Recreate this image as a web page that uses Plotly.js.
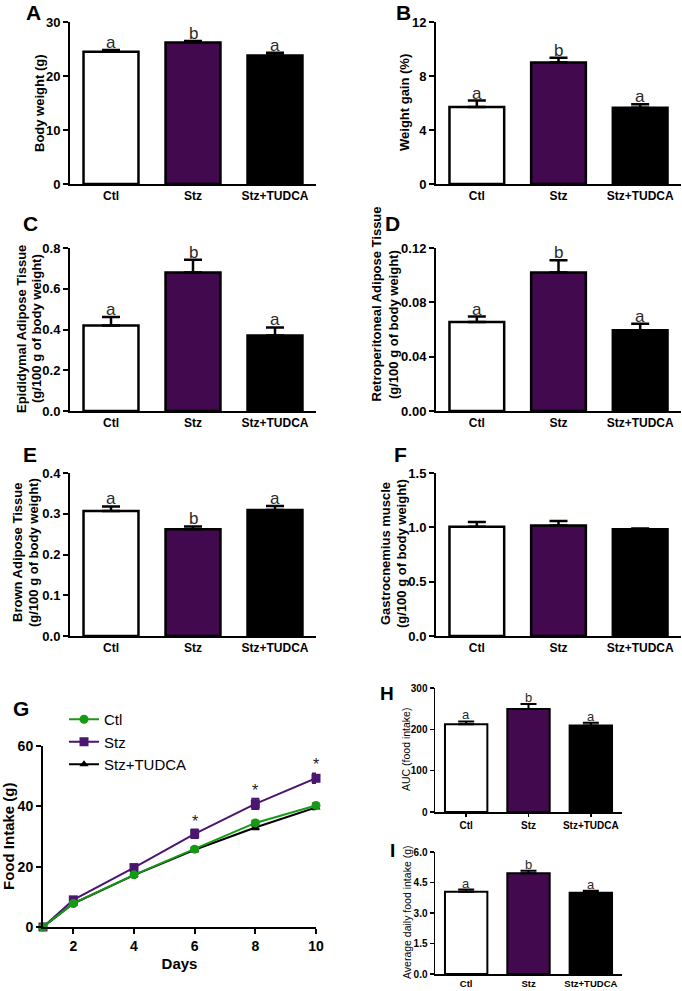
<!DOCTYPE html>
<html>
<head>
<meta charset="utf-8">
<script src="https://cdn.plot.ly/plotly-3.0.1.min.js"></script>
<style>html,body{margin:0;padding:0;background:#fff}#chart{width:682px;height:991px}</style>
</head>
<body>
<div id="chart"></div>
<script>
// ---------- DATA ----------
var categories = ['Ctl', 'Stz', 'Stz+TUDCA'];

var bodyWeight = [24.5, 26.2, 23.8];
var bodyWeightErr = [0.3, 0.3, 0.5];
var bodyWeightLetters = ['a', 'b', 'a'];

var weightGain = [5.7, 9.0, 5.65];
var weightGainErr = [0.48, 0.36, 0.26];
var weightGainLetters = ['a', 'b', 'a'];

var epididymal = [0.42, 0.68, 0.37];
var epididymalErr = [0.041, 0.062, 0.04];
var epididymalLetters = ['a', 'b', 'a'];

var retroperitoneal = [0.0655, 0.102, 0.0595];
var retroperitonealErr = [0.004, 0.009, 0.0048];
var retroperitonealLetters = ['a', 'b', 'a'];

var brownAdipose = [0.307, 0.262, 0.309];
var brownAdiposeErr = [0.011, 0.007, 0.01];
var brownAdiposeLetters = ['a', 'b', 'a'];

var gastrocnemius = [1.006, 1.018, 0.982];
var gastrocnemiusErr = [0.043, 0.04, 0.008];

var aucFood = [212, 249, 209];
var aucFoodErr = [7, 12, 7];
var aucFoodLetters = ['a', 'b', 'a'];

var avgDailyFood = [4.05, 4.95, 4.0];
var avgDailyFoodErr = [0.1, 0.13, 0.1];
var avgDailyFoodLetters = ['a', 'b', 'a'];

var days = [1, 2, 4, 6, 8, 10];
var ctlIntake = [0, 7.8, 17.3, 25.8, 34.5, 40.3];
var ctlIntakeErr = [0, 0.4, 0.6, 0.6, 0.7, 0.7];
var stzIntake = [0, 9.0, 19.7, 30.9, 40.8, 49.3];
var stzIntakeErr = [0, 0.6, 0.8, 1.4, 1.7, 1.6];
var tudcaIntake = [0, 7.8, 17.2, 25.6, 33.0, 39.6];
var tudcaIntakeErr = [0, 0.4, 0.5, 0.6, 0.6, 0.6];
var starDays = [6, 8, 10];

// ---------- STYLE ----------
var W = 682, H = 991;
var FONT = 'Liberation Sans, Arial, sans-serif';
var barColors = ['#ffffff', '#42094f', '#000000'];
var PURPLE_LINE = '#4a1670';
var GREEN = '#169a16';

function dx(a, b) { return [a / W, b / W]; }
function dy(top, bottom) { return [1 - bottom / H, 1 - top / H]; }

var traces = [];
var annotations = [];

function addBar(n, vals, errs, letters, small) {
  var xa = 'x' + (n === 1 ? '' : n), ya = 'y' + (n === 1 ? '' : n);
  traces.push({
    type: 'bar', x: categories, y: vals, xaxis: xa, yaxis: ya,
    width: small ? 0.68 : 0.67, showlegend: false,
    marker: { color: barColors, line: { color: '#000', width: small ? 2 : 2.5 } },
    error_y: { type: 'data', symmetric: false, array: errs, arrayminus: [0, 0, 0],
      color: '#000', thickness: small ? 2 : 2.5, width: small ? 8 : 9 }
  });
  if (letters) {
    for (var i = 0; i < categories.length; i++) {
      annotations.push({
        xref: xa, yref: ya, x: categories[i], y: vals[i] + errs[i],
        text: letters[i], showarrow: false, yanchor: 'bottom', yshift: small ? -3 : -4,
        font: { family: FONT, size: small ? 13 : 17, color: '#2a2a2a' }
      });
    }
  }
}

addBar(1, bodyWeight, bodyWeightErr, bodyWeightLetters);
addBar(2, weightGain, weightGainErr, weightGainLetters);
addBar(3, epididymal, epididymalErr, epididymalLetters);
addBar(4, retroperitoneal, retroperitonealErr, retroperitonealLetters);
addBar(5, brownAdipose, brownAdiposeErr, brownAdiposeLetters);
addBar(6, gastrocnemius, gastrocnemiusErr, null);
addBar(8, aucFood, aucFoodErr, aucFoodLetters, true);
addBar(9, avgDailyFood, avgDailyFoodErr, avgDailyFoodLetters, true);

// Panel G lines
function lineTrace(name, y, err, color, symbol, size) {
  return {
    type: 'scatter', mode: 'lines+markers', name: name, x: days, y: y,
    xaxis: 'x7', yaxis: 'y7', cliponaxis: false,
    line: { color: color, width: 2 },
    marker: { color: color, symbol: symbol, size: size },
    error_y: { type: 'data', array: err, color: color, thickness: 2, width: 4 }
  };
}
traces.push(lineTrace('Stz+TUDCA', tudcaIntake, tudcaIntakeErr, '#000', 'triangle-up', 8));
traces.push(lineTrace('Stz', stzIntake, stzIntakeErr, PURPLE_LINE, 'square', 9));
traces.push(lineTrace('Ctl', ctlIntake, ctlIntakeErr, GREEN, 'circle', 9));

for (var k = 0; k < starDays.length; k++) {
  var idx = days.indexOf(starDays[k]);
  annotations.push({
    xref: 'x7', yref: 'y7', x: starDays[k], y: stzIntake[idx] + stzIntakeErr[idx],
    text: '*', showarrow: false, yanchor: 'bottom', yshift: -2,
    font: { family: FONT, size: 16, color: '#222' }
  });
}

// Panel labels
var panelLabels = [
  ['A', 33, 12, 21], ['B', 403, 12, 21], ['C', 30, 223, 21], ['D', 392, 223, 21],
  ['E', 30, 454, 21], ['F', 400, 454, 21], ['G', 21, 708, 21], ['H', 387, 693, 19], ['I', 392, 850, 19]
];
panelLabels.forEach(function (p) {
  annotations.push({ xref: 'paper', yref: 'paper', x: p[1] / W, y: 1 - p[2] / H,
    text: '<b>' + p[0] + '</b>', showarrow: false, xanchor: 'center', yanchor: 'middle',
    font: { family: FONT, size: p[3], color: '#000' } });
});

// Y axis titles (rotated text)
var yTitles = [
  ['Body weight (g)', 39, 103, 13, true, 'middle'],
  ['Weight gain (%)', 404, 103, 13, true, 'middle'],
  ['Epididymal Adipose Tissue', 22, 329, 13, true, 'middle'],
  ['(g/100 g of body weight)', 37, 329, 13, true, 'middle'],
  ['Retroperitoneal Adipose Tissue', 376, 403, 13, true, 'bottom'],
  ['(g/100 g of body weight)', 393, 325, 13, true, 'middle'],
  ['Brown Adipose Tissue', 17, 553, 13, true, 'middle'],
  ['(g/100 g of body weight)', 33, 553, 13, true, 'middle'],
  ['Gastrocnemius muscle', 385, 554, 13, true, 'middle'],
  ['(g/100 g of body weight)', 401, 554, 13, true, 'middle'],
  ['Food Intake (g)', 8, 836, 15, true, 'middle'],
  ['AUC (food intake)', 406, 750, 10.5, false, 'middle'],
  ['Average daily food intake (g)', 407, 913, 10.5, false, 'middle']
];
yTitles.forEach(function (t) {
  annotations.push({ xref: 'paper', yref: 'paper', x: t[1] / W, y: 1 - t[2] / H,
    text: t[4] ? '<b>' + t[0] + '</b>' : t[0], textangle: -90, showarrow: false,
    xanchor: 'center', yanchor: t[5], font: { family: FONT, size: t[3], color: '#000' } });
});

function catAxis(dom, small, noTicks) {
  return {
    domain: dom, type: 'category', range: [-0.5, 2.5], showgrid: false, zeroline: false,
    showline: true, linecolor: '#000', linewidth: small ? 1.5 : 2,
    ticks: (small && !noTicks) ? 'outside' : '', ticklen: 3, tickwidth: 1.5, tickcolor: '#000',
    tickfont: { family: FONT, size: small ? 10 : 12, weight: 'bold', color: '#000' },
    fixedrange: true
  };
}
function valAxis(dom, range, dtick, small, fmt) {
  return {
    domain: dom, range: range, dtick: dtick, tick0: 0, showgrid: false, zeroline: false,
    showline: true, linecolor: '#000', linewidth: small ? 1.5 : 2,
    ticks: 'outside', ticklen: small ? 4 : 5, tickwidth: small ? 1.5 : 2, tickcolor: '#000',
    tickformat: fmt || '',
    tickfont: { family: FONT, size: small ? 10 : 13, weight: 'bold', color: '#000' },
    fixedrange: true
  };
}

var layout = {
  width: W, height: H, margin: { l: 0, r: 0, t: 0, b: 0 },
  paper_bgcolor: '#fff', plot_bgcolor: 'rgba(0,0,0,0)', bargap: 0.33,
  font: { family: FONT, color: '#000' },
  showlegend: true,
  legend: { x: 64 / W, y: 1 - 703 / H, xanchor: 'left', yanchor: 'top', traceorder: 'reversed',
    font: { family: FONT, size: 15, color: '#000' }, itemwidth: 30, bgcolor: 'rgba(0,0,0,0)', tracegroupgap: 0 },
  annotations: annotations,

  xaxis: catAxis(dx(70, 316)), yaxis: valAxis(dy(22, 184), [0, 30], 10),
  xaxis2: catAxis(dx(436, 681)), yaxis2: valAxis(dy(22, 184), [0, 12], 4),
  xaxis3: catAxis(dx(70, 316)), yaxis3: valAxis(dy(248, 411), [0, 0.8], 0.2, false, '.1f'),
  xaxis4: catAxis(dx(436, 681)), yaxis4: valAxis(dy(248, 411), [0, 0.12], 0.04, false, '.2f'),
  xaxis5: catAxis(dx(70, 316)), yaxis5: valAxis(dy(473, 636), [0, 0.4], 0.1, false, '.1f'),
  xaxis6: catAxis(dx(436, 681)), yaxis6: valAxis(dy(473, 636), [0, 1.5], 0.5, false, '.1f'),
  xaxis7: {
    domain: dx(43, 316), range: [1, 10], tickvals: [2, 4, 6, 8, 10], showgrid: false, zeroline: false,
    showline: true, linecolor: '#000', linewidth: 2, ticks: 'outside', ticklen: 5, tickwidth: 2, tickcolor: '#000',
    tickfont: { family: FONT, size: 14, weight: 'bold', color: '#000' },
    title: { text: 'Days', standoff: 6, font: { family: FONT, size: 15, weight: 'bold', color: '#000' } },
    fixedrange: true
  },
  yaxis7: valAxis(dy(746, 927), [0, 60], 20),
  xaxis8: catAxis(dx(435, 622), true), yaxis8: valAxis(dy(688, 812), [0, 300], 100, true),
  xaxis9: catAxis(dx(435, 622), true, true), yaxis9: valAxis(dy(852, 974), [0, 6], 1.5, true, '.1f')
};
layout.yaxis7.tickfont.size = 14;
layout.xaxis9.tickfont.size = 9.5;
for (var n = 1; n <= 9; n++) {
  var s = n === 1 ? '' : n;
  layout['xaxis' + s].anchor = 'y' + s;
  layout['yaxis' + s].anchor = 'x' + s;
}

Plotly.newPlot('chart', traces, layout, { staticPlot: true, displayModeBar: false });
</script>
</body>
</html>
